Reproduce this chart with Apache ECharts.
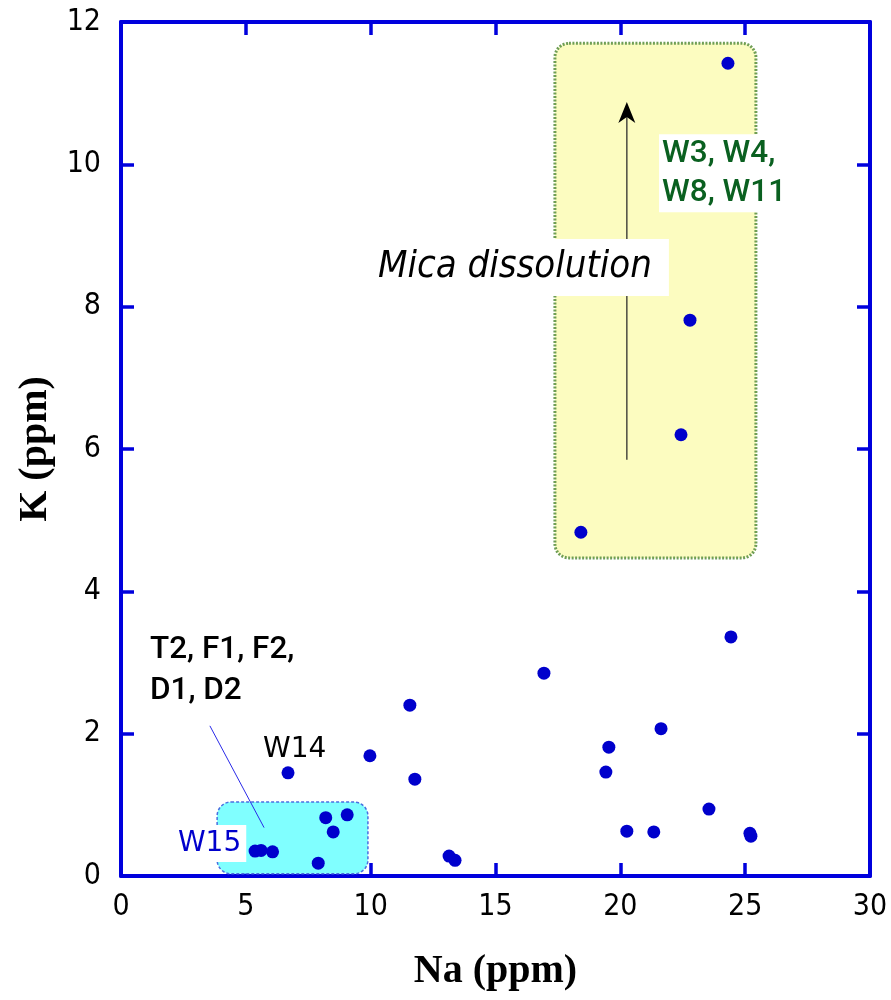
<!DOCTYPE html>
<html>
<head>
<meta charset="utf-8">
<script src="https://cdn.jsdelivr.net/npm/echarts@6/dist/echarts.min.js"></script>
<style>html,body{margin:0;padding:0;background:#fff}#c{width:891px;height:1000px}</style>
</head>
<body>
<div id="c"></div>
<script>
// ---- data ----
const naValues = [24.31, 22.79, 22.43, 18.42, 24.43, 16.94, 11.57, 21.63, 19.54, 19.42, 9.97, 11.77, 6.69, 23.55, 20.26, 21.34, 25.19, 25.23, 13.14, 13.38, 8.20, 9.06, 8.50, 5.37, 5.61, 6.07, 7.90];
const kValues  = [11.42, 7.81, 6.20, 4.83, 3.36, 2.85, 2.40, 2.07, 1.81, 1.46, 1.69, 1.36, 1.45, 0.94, 0.63, 0.62, 0.60, 0.56, 0.28, 0.22, 0.82, 0.86, 0.62, 0.35, 0.36, 0.34, 0.18];
const xLabel = 'Na (ppm)';
const yLabel = 'K (ppm)';
const micaBox = [17.38, 11.70, 25.43, 4.47];   // Na1, K1, Na2, K2
const lowBox  = [3.85, 1.04, 9.89, 0.03];
const arrowLine = [20.26, 5.85, 20.26, 10.875];
const leaderLine = [3.56, 2.11, 5.73, 0.68];
const labelTexts = ['Mica dissolution', 'W3, W4,\nW8, W11', 'T2, F1, F2,\nD1, D2', 'W14', 'W15'];
const labelAnchors = [[10.29, 8.55], [21.67, 9.875], [1.16, 2.88], [5.69, 1.78], [2.28, 0.457]];

const axisBlue = '#0000dd';
const points = naValues.map((v, i) => [v, kValues[i]]);

const chart = echarts.init(document.getElementById('c'), null, {renderer: 'canvas'});

const labelStyles = [
  {fontFamily: '"DejaVu Sans Condensed","DejaVu Sans"', fontStyle: 'italic', fontSize: 38, fill: '#000', backgroundColor: '#fff', lineHeight: 57, padding: [0, 17, 0, 8], pad: 8},
  {fontFamily: 'Roboto', fontWeight: 500, fontSize: 31.5, fill: '#0a6020', backgroundColor: '#fff', lineHeight: 39, padding: [0, 10, 0, 3], pad: 3},
  {fontFamily: 'Roboto', fontWeight: 500, fontSize: 31.5, fill: '#000', lineHeight: 41, pad: 0},
  {fontFamily: '"DejaVu Sans"', fontSize: 28, fill: '#000', lineHeight: 30, pad: 0},
  {fontFamily: '"DejaVu Sans"', fontSize: 28, fill: '#0000cc', backgroundColor: '#fff', lineHeight: 37, padding: [0, 5, 0, 6], pad: 6}
];

function rectSeries(box, style, z) {
  return {
    type: 'custom', coordinateSystem: 'cartesian2d', z: z, silent: true,
    data: [box],
    renderItem: function (params, api) {
      const p1 = api.coord([api.value(0), api.value(1)]);
      const p2 = api.coord([api.value(2), api.value(3)]);
      return {type: 'rect', shape: {x: p1[0], y: p1[1], width: p2[0] - p1[0], height: p2[1] - p1[1], r: 14}, style: style};
    }
  };
}

const axLine = {show: true, onZero: false, lineStyle: {color: axisBlue, width: 4}};
const axTick = {show: true, inside: true, length: 13, lineStyle: {color: axisBlue, width: 3.5}};

const option = {
  animation: false,
  grid: {left: 121, right: 21, top: 22, bottom: 124, containLabel: false},
  xAxis: [
    {type: 'value', min: 0, max: 30, interval: 5, position: 'bottom',
     name: xLabel, nameLocation: 'middle', nameGap: 76,
     nameTextStyle: {fontFamily: '"Liberation Serif"', fontWeight: 'bold', fontSize: 40, color: '#000'},
     axisLine: axLine, axisTick: axTick,
     axisLabel: {margin: 16, fontFamily: '"DejaVu Sans Condensed","DejaVu Sans"', fontSize: 30, color: '#000'},
     splitLine: {show: false}},
    {type: 'value', min: 0, max: 30, interval: 5, position: 'top',
     axisLine: axLine, axisTick: axTick,
     axisLabel: {show: false}, splitLine: {show: false}}
  ],
  yAxis: [
    {type: 'value', min: 0, max: 12, interval: 2, position: 'left',
     name: yLabel, nameLocation: 'middle', nameGap: 64,
     nameTextStyle: {fontFamily: '"Liberation Serif"', fontWeight: 'bold', fontSize: 40, color: '#000'},
     axisLine: axLine, axisTick: axTick,
     axisLabel: {margin: 20, fontFamily: '"DejaVu Sans Condensed","DejaVu Sans"', fontSize: 30, color: '#000'},
     splitLine: {show: false}},
    {type: 'value', min: 0, max: 12, interval: 2, position: 'right',
     axisLine: axLine, axisTick: axTick,
     axisLabel: {show: false}, splitLine: {show: false}}
  ],
  series: [
    rectSeries(micaBox, {fill: '#fcfcc0', stroke: '#6f9e55', lineWidth: 3, lineDash: [2, 1.5]}, 1),
    rectSeries(lowBox, {fill: '#80ffff', stroke: '#4a6fe0', lineWidth: 1.5, lineDash: [3, 2]}, 1),
    {
      type: 'custom', coordinateSystem: 'cartesian2d', z: 2, silent: true,
      data: [arrowLine],
      renderItem: function (params, api) {
        const a = api.coord([api.value(0), api.value(1)]);
        const b = api.coord([api.value(2), api.value(3)]);
        return {type: 'group', children: [
          {type: 'line', shape: {x1: a[0], y1: a[1], x2: b[0], y2: b[1] + 12}, style: {stroke: '#555548', lineWidth: 1.6}},
          {type: 'polygon', shape: {points: [[b[0], b[1]], [b[0] - 8.5, b[1] + 21], [b[0], b[1] + 15], [b[0] + 8.5, b[1] + 21]]}, style: {fill: '#000'}}
        ]};
      }
    },
    {
      type: 'custom', coordinateSystem: 'cartesian2d', z: 2, silent: true,
      data: [leaderLine],
      renderItem: function (params, api) {
        const a = api.coord([api.value(0), api.value(1)]);
        const b = api.coord([api.value(2), api.value(3)]);
        return {type: 'line', shape: {x1: a[0], y1: a[1], x2: b[0], y2: b[1]}, style: {stroke: '#2a2ae8', lineWidth: 1}};
      }
    },
    {
      type: 'custom', coordinateSystem: 'cartesian2d', z: 3, silent: true,
      data: labelAnchors,
      renderItem: function (params, api) {
        const p = api.coord([api.value(0), api.value(1)]);
        const s = labelStyles[params.dataIndex];
        const st = {text: labelTexts[params.dataIndex], fill: s.fill, fontFamily: s.fontFamily, fontSize: s.fontSize,
          fontStyle: s.fontStyle || 'normal', fontWeight: s.fontWeight || 'normal', lineHeight: s.lineHeight,
          align: 'left', verticalAlign: 'middle'};
        if (s.backgroundColor) { st.backgroundColor = s.backgroundColor; st.padding = s.padding; }
        return {type: 'text', x: p[0] - s.pad, y: p[1], style: st};
      }
    },
    {
      type: 'scatter', z: 5, data: points, symbol: 'circle', symbolSize: 13,
      itemStyle: {color: '#0000cc', opacity: 1}, silent: true
    }
  ]
};
chart.setOption(option);
</script>
</body>
</html>
